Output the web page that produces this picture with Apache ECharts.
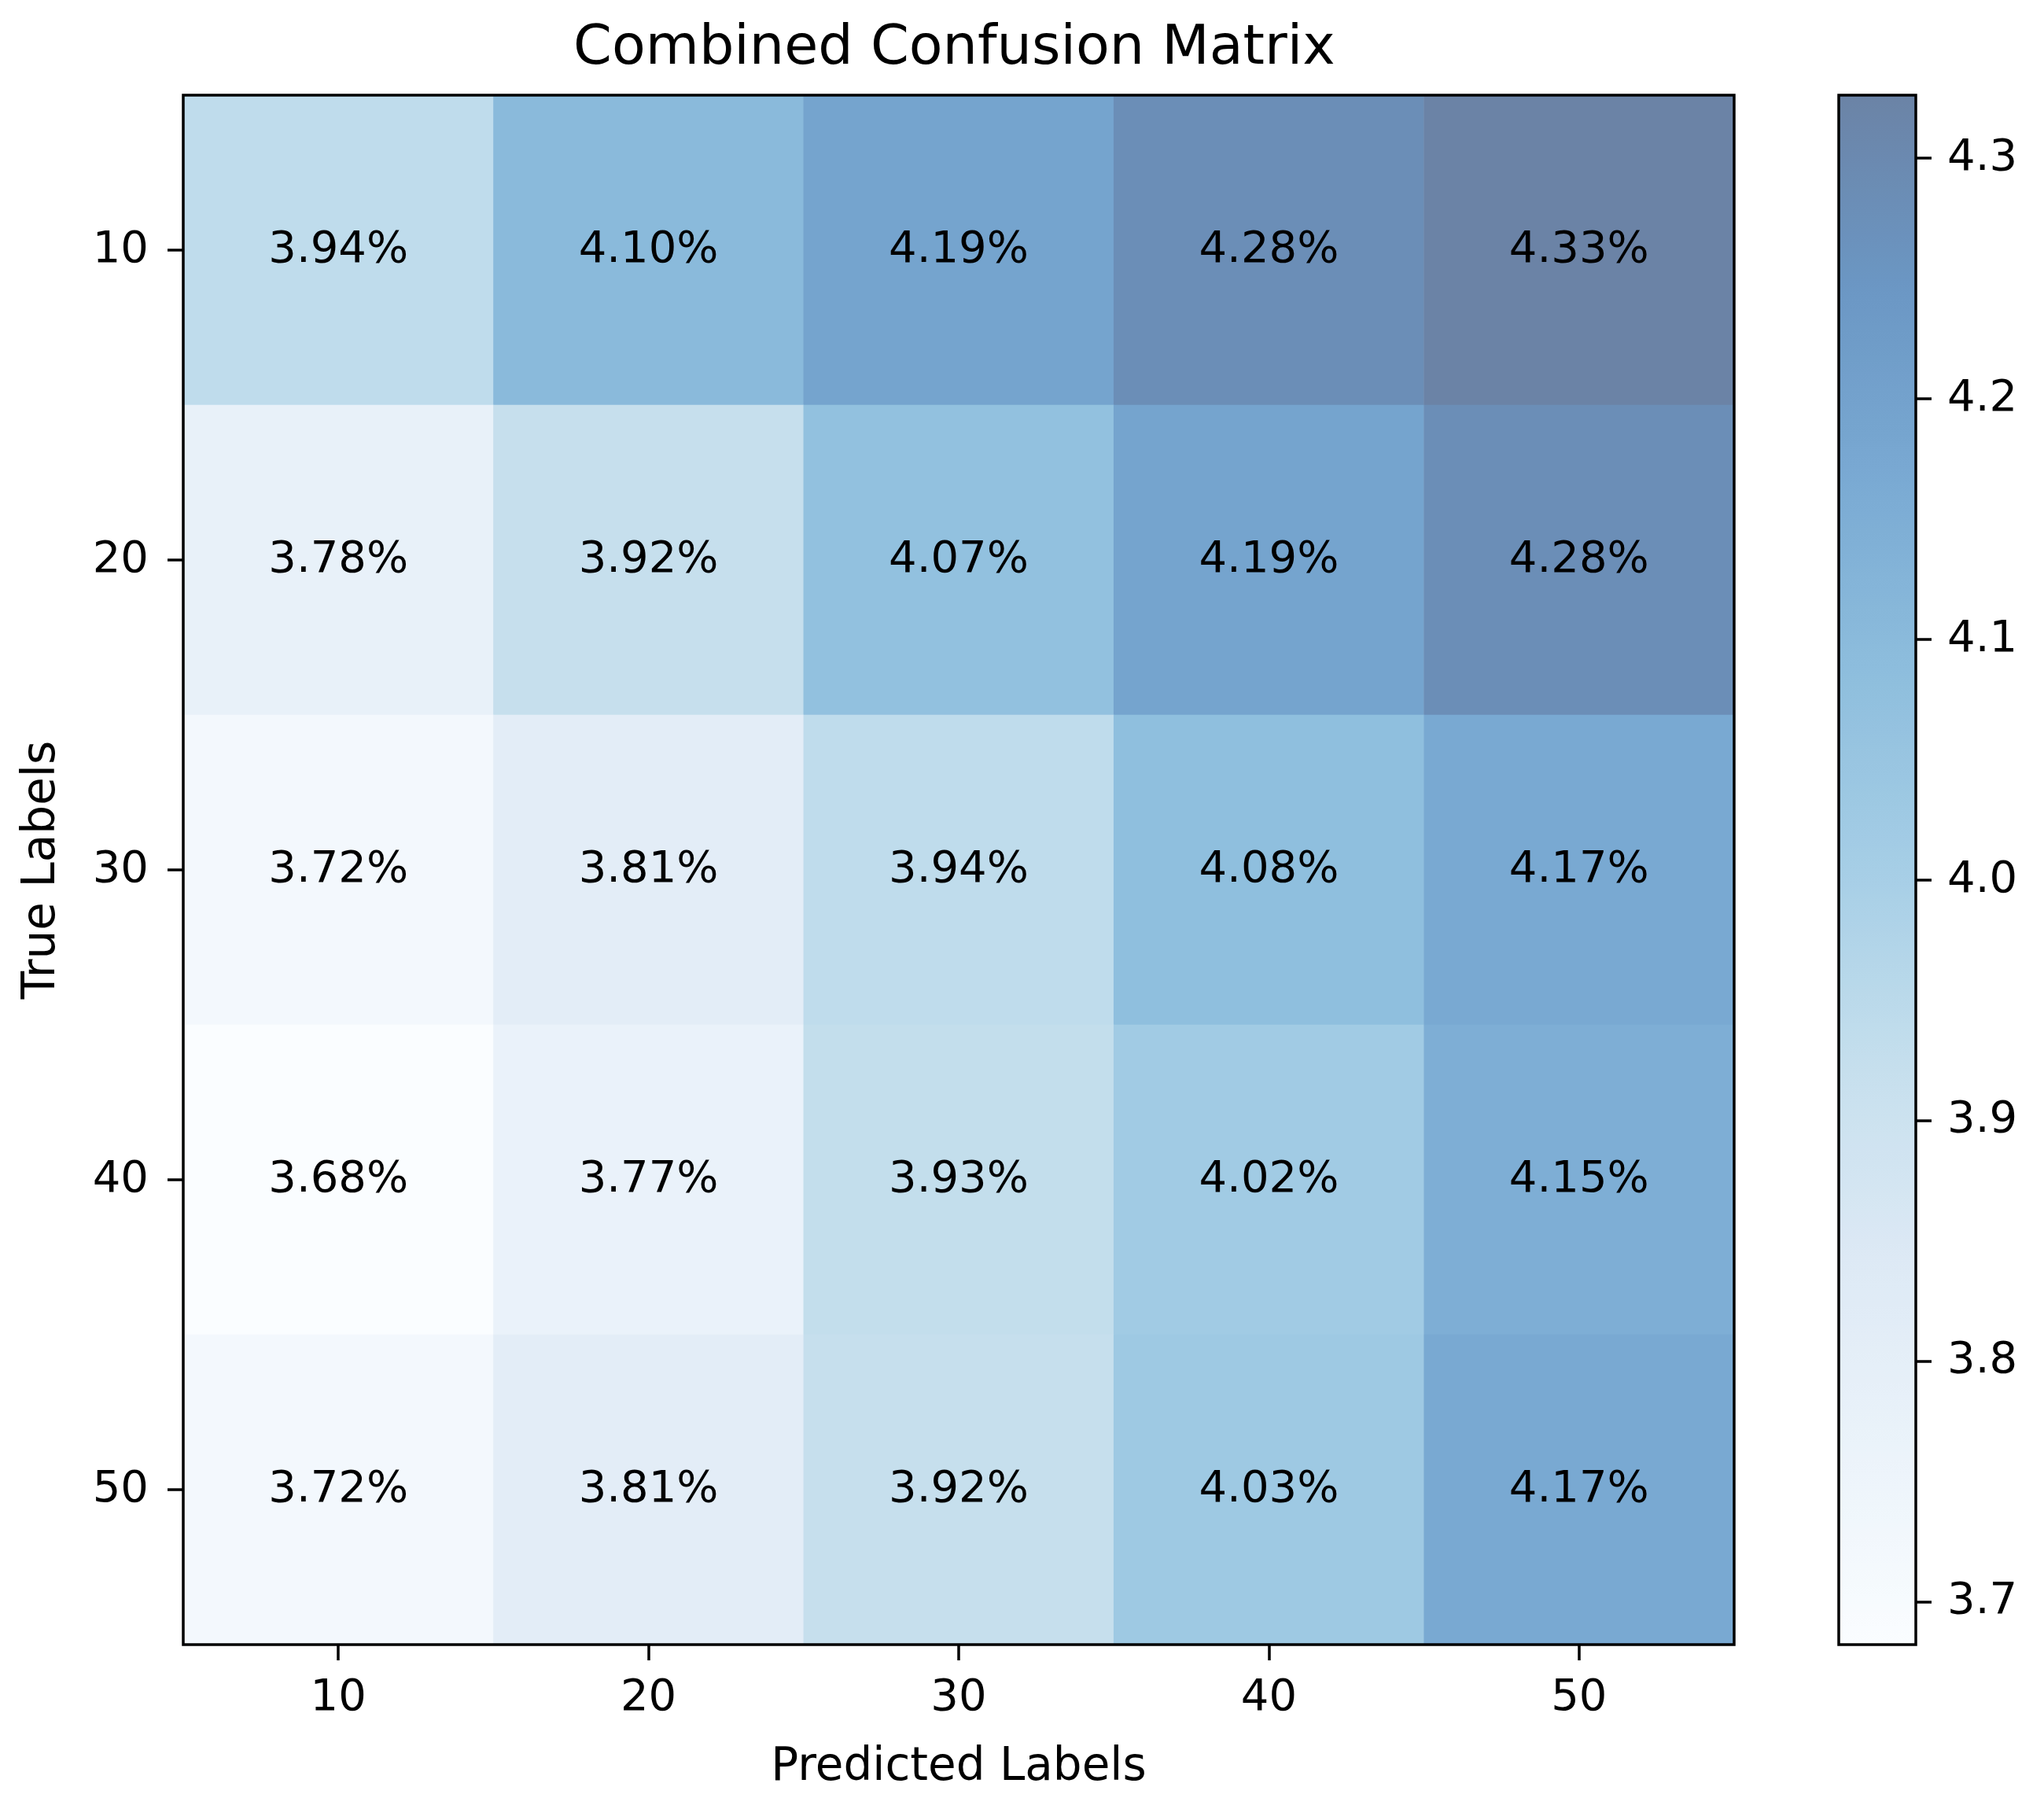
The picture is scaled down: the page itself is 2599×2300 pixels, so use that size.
<!DOCTYPE html>
<html>
<head>
<meta charset="utf-8">
<script src="https://cdn.jsdelivr.net/npm/echarts@6/dist/echarts.min.js"></script>
<style>
html,body{margin:0;padding:0;background:#fff;}
#chart{width:2599px;height:2300px;}
</style>
</head>
<body>
<div id="chart"></div>
<script>
// ---- data ----
const predictedLabels = ['10', '20', '30', '40', '50'];
const trueLabels = ['10', '20', '30', '40', '50'];
const row10 = [3.94, 4.10, 4.19, 4.28, 4.33];
const row20 = [3.78, 3.92, 4.07, 4.19, 4.28];
const row30 = [3.72, 3.81, 3.94, 4.08, 4.17];
const row40 = [3.68, 3.77, 3.93, 4.02, 4.15];
const row50 = [3.72, 3.81, 3.92, 4.03, 4.17];
const colorbarTicks = [3.7, 3.8, 3.9, 4.0, 4.1, 4.2, 4.3];
const colorMin = 3.6823;
const colorMax = 4.3262;
const titleText = 'Combined Confusion Matrix';
const xName = 'Predicted Labels';
const yName = 'True Labels';

// Blues colormap blended at alpha 0.6 over white
const bluesStops = ['#f7fbff', '#deebf7', '#c6dbef', '#9ecae1', '#6baed6', '#4292c6', '#2171b5', '#08519c', '#08306b'];
function blend(hex, a) {
  const n = parseInt(hex.slice(1), 16);
  const r = (n >> 16) & 255, g = (n >> 8) & 255, b = n & 255;
  const f = c => Math.round(a * c + (1 - a) * 255);
  return 'rgb(' + f(r) + ',' + f(g) + ',' + f(b) + ')';
}
const cmap = bluesStops.map(c => blend(c, 0.6));

const rows = [row10, row20, row30, row40, row50];
const heatData = [];
rows.forEach((row, yi) => row.forEach((v, xi) => heatData.push([xi, yi, v])));

const FONT = 'DejaVu Sans';
const G = { left: 233, top: 121, width: 1972, height: 1970 };
const CB = { left: 2338, top: 121, width: 98, height: 1970 };

const chart = echarts.init(document.getElementById('chart'), null, { renderer: 'canvas' });
chart.setOption({
  backgroundColor: '#ffffff',
  animation: false,
  title: {
    text: titleText,
    left: 729, top: 28, padding: 0,
    textStyle: { fontFamily: FONT, fontSize: 70, fontWeight: 'normal', color: '#000' }
  },
  grid: [
    { left: G.left, top: G.top, width: G.width, height: G.height, show: true, z: 10,
      backgroundColor: 'transparent', borderColor: '#000', borderWidth: 3.5 },
    { left: CB.left, top: CB.top, width: CB.width, height: CB.height, show: true, z: 10,
      backgroundColor: 'transparent', borderColor: '#000', borderWidth: 3.5 }
  ],
  xAxis: [
    { type: 'category', gridIndex: 0, data: predictedLabels, position: 'bottom',
      name: xName, nameLocation: 'middle', nameGap: 128,
      nameTextStyle: { fontFamily: FONT, fontSize: 58, color: '#000' },
      axisLine: { show: false },
      axisTick: { show: true, alignWithLabel: true, length: 20, lineStyle: { color: '#000', width: 3.5 } },
      axisLabel: { fontFamily: FONT, fontSize: 56, color: '#000', margin: 40 },
      splitLine: { show: false }, z: 10 },
    { type: 'category', gridIndex: 1, data: [''], show: false }
  ],
  yAxis: [
    { type: 'category', gridIndex: 0, data: trueLabels, inverse: true, position: 'left',
      name: yName, nameLocation: 'middle', nameGap: 150,
      nameTextStyle: { fontFamily: FONT, fontSize: 58, color: '#000' },
      axisLine: { show: false },
      axisTick: { show: true, alignWithLabel: true, length: 20, lineStyle: { color: '#000', width: 3.5 } },
      axisLabel: { fontFamily: FONT, fontSize: 56, color: '#000', margin: 44 },
      splitLine: { show: false }, z: 10 },
    { type: 'value', gridIndex: 1, position: 'right', min: colorMin, max: colorMax,
      axisLine: { show: false, onZero: false },
      axisTick: { show: true, inside: false, length: 20, customValues: colorbarTicks, lineStyle: { color: '#000', width: 3.5 } },
      axisLabel: { fontFamily: FONT, fontSize: 56, color: '#000', margin: 40, customValues: colorbarTicks,
        formatter: v => Number(v).toFixed(1) },
      splitLine: { show: false }, z: 10 }
  ],
  visualMap: {
    type: 'continuous',
    seriesIndex: 0,
    min: colorMin, max: colorMax,
    calculable: false,
    hoverLink: false,
    orient: 'vertical',
    left: CB.left, top: CB.top,
    itemWidth: CB.width, itemHeight: CB.height,
    padding: 0,
    inRange: { color: cmap }
  },
  series: [{
    type: 'heatmap',
    xAxisIndex: 0, yAxisIndex: 0,
    data: heatData,
    label: {
      show: true,
      fontFamily: FONT, fontSize: 56, color: '#000',
      formatter: p => p.value[2].toFixed(2) + '%'
    },
    itemStyle: { borderWidth: 0 },
    emphasis: { disabled: true }
  }]
});
</script>
</body>
</html>
